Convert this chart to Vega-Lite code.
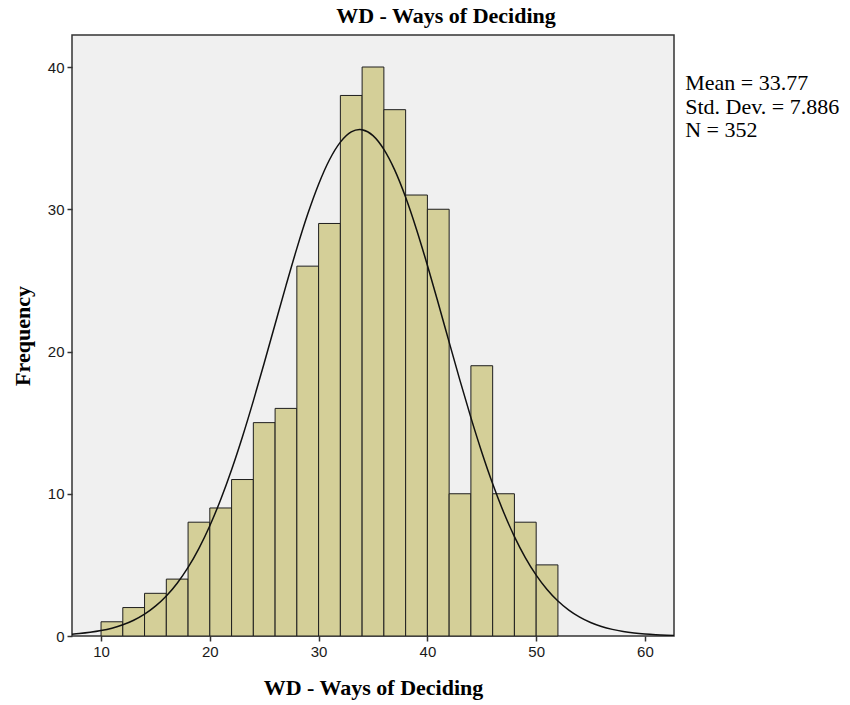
{
  "$schema": "https://vega.github.io/schema/vega-lite/v6.json",
  "width": 602,
  "height": 601,
  "autosize": {"type": "none"},
  "padding": {"left": 72, "top": 35, "right": 176, "bottom": 69},
  "background": "white",
  "title": {
    "text": "WD - Ways of Deciding",
    "font": "Liberation Serif",
    "fontSize": 22,
    "fontWeight": "bold",
    "color": "#000",
    "anchor": "middle",
    "frame": "group",
    "dx": 73,
    "offset": 7
  },
  "datasets": {
    "bins": [
      {"lo": 10, "hi": 12, "count": 1},
      {"lo": 12, "hi": 14, "count": 2},
      {"lo": 14, "hi": 16, "count": 3},
      {"lo": 16, "hi": 18, "count": 4},
      {"lo": 18, "hi": 20, "count": 8},
      {"lo": 20, "hi": 22, "count": 9},
      {"lo": 22, "hi": 24, "count": 11},
      {"lo": 24, "hi": 26, "count": 15},
      {"lo": 26, "hi": 28, "count": 16},
      {"lo": 28, "hi": 30, "count": 26},
      {"lo": 30, "hi": 32, "count": 29},
      {"lo": 32, "hi": 34, "count": 38},
      {"lo": 34, "hi": 36, "count": 40},
      {"lo": 36, "hi": 38, "count": 37},
      {"lo": 38, "hi": 40, "count": 31},
      {"lo": 40, "hi": 42, "count": 30},
      {"lo": 42, "hi": 44, "count": 10},
      {"lo": 44, "hi": 46, "count": 19},
      {"lo": 46, "hi": 48, "count": 10},
      {"lo": 48, "hi": 50, "count": 8},
      {"lo": 50, "hi": 52, "count": 5}
    ],
    "curve": [
      {"x": 7.3, "y": 0.127}, {"x": 8, "y": 0.171}, {"x": 9, "y": 0.257}, {"x": 10, "y": 0.379},
      {"x": 11, "y": 0.551}, {"x": 12, "y": 0.788}, {"x": 13, "y": 1.11}, {"x": 14, "y": 1.537},
      {"x": 15, "y": 2.096}, {"x": 16, "y": 2.811}, {"x": 17, "y": 3.712}, {"x": 18, "y": 4.821},
      {"x": 19, "y": 6.163}, {"x": 20, "y": 7.753}, {"x": 21, "y": 9.598}, {"x": 22, "y": 11.69},
      {"x": 23, "y": 14.01}, {"x": 24, "y": 16.53}, {"x": 25, "y": 19.19}, {"x": 26, "y": 21.92},
      {"x": 27, "y": 24.63}, {"x": 28, "y": 27.25}, {"x": 29, "y": 29.66}, {"x": 30, "y": 31.76},
      {"x": 31, "y": 33.48}, {"x": 32, "y": 34.72}, {"x": 33, "y": 35.44}, {"x": 33.77, "y": 35.61},
      {"x": 34, "y": 35.59}, {"x": 35, "y": 35.18}, {"x": 36, "y": 34.21}, {"x": 37, "y": 32.75},
      {"x": 38, "y": 30.84}, {"x": 39, "y": 28.58}, {"x": 40, "y": 26.06}, {"x": 41, "y": 23.39},
      {"x": 42, "y": 20.66}, {"x": 43, "y": 17.95}, {"x": 44, "y": 15.35}, {"x": 45, "y": 12.92},
      {"x": 46, "y": 10.7}, {"x": 47, "y": 8.717}, {"x": 48, "y": 6.991}, {"x": 49, "y": 5.516},
      {"x": 50, "y": 4.284}, {"x": 51, "y": 3.273}, {"x": 52, "y": 2.461}, {"x": 53, "y": 1.821},
      {"x": 54, "y": 1.326}, {"x": 55, "y": 0.95}, {"x": 56, "y": 0.67}, {"x": 57, "y": 0.465},
      {"x": 58, "y": 0.317}, {"x": 59, "y": 0.213}, {"x": 60, "y": 0.141}, {"x": 61, "y": 0.092},
      {"x": 62, "y": 0.059}, {"x": 62.7, "y": 0.043}
    ],
    "stats": [
      {"line1": "Mean = 33.77", "line2": "Std. Dev. = 7.886", "line3": "N = 352"}
    ]
  },
  "layer": [
    {
      "data": {"name": "bins"},
      "mark": {"type": "rect", "fill": "#d4cf98", "stroke": "#1e1e1e", "strokeWidth": 1},
      "encoding": {
        "x": {
          "field": "lo", "type": "quantitative",
          "scale": {"domain": [7.33, 62.67], "nice": false, "zero": false},
          "axis": {"values": [10, 20, 30, 40, 50, 60], "title": "WD - Ways of Deciding", "titlePadding": 18}
        },
        "x2": {"field": "hi"},
        "y": {
          "field": "count", "type": "quantitative",
          "scale": {"domain": [0, 42.25], "nice": false},
          "axis": {"values": [0, 10, 20, 30, 40], "title": "Frequency", "titlePadding": 13}
        },
        "y2": {"datum": 0}
      }
    },
    {
      "data": {"name": "curve"},
      "mark": {"type": "line", "color": "#111", "strokeWidth": 1.5, "interpolate": "monotone", "clip": true},
      "encoding": {
        "x": {"field": "x", "type": "quantitative"},
        "y": {"field": "y", "type": "quantitative"}
      }
    },
    {
      "data": {"name": "stats"},
      "mark": {
        "type": "text", "align": "left", "baseline": "top",
        "font": "Liberation Serif", "fontSize": 22, "lineHeight": 23.5, "color": "#000"
      },
      "encoding": {
        "x": {"datum": 63.7, "type": "quantitative"},
        "y": {"datum": 39.55, "type": "quantitative"},
        "text": {"value": ["Mean = 33.77", "Std. Dev. = 7.886", "N = 352"]}
      }
    }
  ],
  "config": {
    "view": {"fill": "#f0f0f0", "stroke": "#333333", "strokeWidth": 1.5},
    "axis": {
      "grid": false,
      "domain": false,
      "ticks": true,
      "tickSize": 5,
      "tickWidth": 1.5,
      "tickColor": "#333333",
      "labelFont": "Liberation Sans",
      "labelFontSize": 15,
      "labelColor": "#1a1a1a",
      "labelPadding": 3,
      "titleFont": "Liberation Serif",
      "titleFontSize": 22,
      "titleFontWeight": "bold",
      "titleColor": "#000000"
    }
  }
}
